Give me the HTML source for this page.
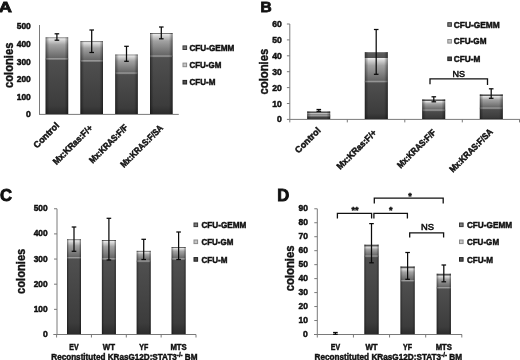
<!DOCTYPE html>
<html><head><meta charset="utf-8"><title>Figure</title>
<style>
html,body{margin:0;padding:0;background:#fff;}
body{width:520px;height:360px;overflow:hidden;}
svg{display:block;font-family:"Liberation Sans", "DejaVu Sans", sans-serif;filter:blur(0.3px);}
</style></head><body>
<svg width="520" height="360" viewBox="0 0 520 360">
<rect width="520" height="360" fill="#fff"/>
<defs>
<linearGradient id="gM" x1="0" y1="0" x2="0" y2="1"><stop offset="0" stop-color="#505050"/><stop offset="0.85" stop-color="#3c3c3c"/><stop offset="1" stop-color="#2c2c2c"/></linearGradient>
<linearGradient id="gGM" x1="0" y1="0" x2="0" y2="1"><stop offset="0" stop-color="#eeeeee"/><stop offset="0.11" stop-color="#d2d2d2"/><stop offset="0.32" stop-color="#a2a2a2"/><stop offset="1" stop-color="#626262"/></linearGradient>
<linearGradient id="gGE" x1="0" y1="0" x2="0" y2="1"><stop offset="0" stop-color="#8c8c8c"/><stop offset="0.25" stop-color="#5a5a5a"/><stop offset="1" stop-color="#525252"/></linearGradient>
<linearGradient id="gHi" x1="0" y1="0" x2="0" y2="1"><stop offset="0" stop-color="#a8a8a8"/><stop offset="0.45" stop-color="#929292" stop-opacity="0.85"/><stop offset="1" stop-color="#8c8c8c" stop-opacity="0"/></linearGradient>
<linearGradient id="gEdge" x1="0" y1="0" x2="1" y2="0"><stop offset="0" stop-color="#000" stop-opacity="0.5"/><stop offset="0.07" stop-color="#000" stop-opacity="0.22"/><stop offset="0.16" stop-color="#000" stop-opacity="0"/><stop offset="0.84" stop-color="#000" stop-opacity="0"/><stop offset="0.93" stop-color="#000" stop-opacity="0.22"/><stop offset="1" stop-color="#000" stop-opacity="0.5"/></linearGradient>
</defs>
<line x1="39.5" y1="25" x2="39.5" y2="114.4" stroke="#7a7a7a" stroke-width="1"/>
<line x1="39.0" y1="114.4" x2="178.8" y2="114.4" stroke="#7a7a7a" stroke-width="1"/>
<text x="30.8" y="117.3" font-size="8.3" text-anchor="end" font-weight="bold" fill="#111" stroke="#111" stroke-width="0.46" textLength="4.8" lengthAdjust="spacingAndGlyphs" >0</text>
<text x="30.8" y="99.7" font-size="8.3" text-anchor="end" font-weight="bold" fill="#111" stroke="#111" stroke-width="0.46" textLength="14.1" lengthAdjust="spacingAndGlyphs" >100</text>
<text x="30.8" y="82.1" font-size="8.3" text-anchor="end" font-weight="bold" fill="#111" stroke="#111" stroke-width="0.46" textLength="14.1" lengthAdjust="spacingAndGlyphs" >200</text>
<text x="30.8" y="64.5" font-size="8.3" text-anchor="end" font-weight="bold" fill="#111" stroke="#111" stroke-width="0.46" textLength="14.1" lengthAdjust="spacingAndGlyphs" >300</text>
<text x="30.8" y="46.9" font-size="8.3" text-anchor="end" font-weight="bold" fill="#111" stroke="#111" stroke-width="0.46" textLength="14.1" lengthAdjust="spacingAndGlyphs" >400</text>
<text x="30.8" y="29.3" font-size="8.3" text-anchor="end" font-weight="bold" fill="#111" stroke="#111" stroke-width="0.46" textLength="14.1" lengthAdjust="spacingAndGlyphs" >500</text>
<text x="12.7" y="65.3" font-size="12" text-anchor="middle" font-weight="bold" fill="#111" stroke="#111" stroke-width="0.4" textLength="45.5" lengthAdjust="spacingAndGlyphs" transform="rotate(-90 12.7 65.3)" >colonies</text>
<rect x="45.6" y="58.8" width="22.6" height="55.2" fill="url(#gM)"/>
<rect x="45.6" y="38.199999999999996" width="22.6" height="20.6" fill="url(#gGM)"/>
<rect x="45.6" y="37.4" width="22.6" height="0.8" fill="url(#gGE)"/>
<rect x="45.6" y="58.3" width="22.6" height="2.2" fill="url(#gHi)"/>
<rect x="45.6" y="37.4" width="22.6" height="76.6" fill="url(#gEdge)"/>
<line x1="56.9" y1="33.8" x2="56.9" y2="40.2" stroke="#0a0a0a" stroke-width="1.25"/>
<line x1="54.6" y1="33.8" x2="59.199999999999996" y2="33.8" stroke="#0a0a0a" stroke-width="1.25"/>
<line x1="54.6" y1="40.2" x2="59.199999999999996" y2="40.2" stroke="#0a0a0a" stroke-width="1.25"/>
<rect x="80.4" y="60.8" width="22.6" height="53.2" fill="url(#gM)"/>
<rect x="80.4" y="42.099999999999994" width="22.6" height="18.7" fill="url(#gGM)"/>
<rect x="80.4" y="41.3" width="22.6" height="0.8" fill="url(#gGE)"/>
<rect x="80.4" y="60.3" width="22.6" height="2.2" fill="url(#gHi)"/>
<rect x="80.4" y="41.3" width="22.6" height="72.7" fill="url(#gEdge)"/>
<line x1="91.7" y1="30.0" x2="91.7" y2="52.5" stroke="#0a0a0a" stroke-width="1.25"/>
<line x1="89.4" y1="30.0" x2="94.0" y2="30.0" stroke="#0a0a0a" stroke-width="1.25"/>
<line x1="89.4" y1="52.5" x2="94.0" y2="52.5" stroke="#0a0a0a" stroke-width="1.25"/>
<rect x="115.2" y="73.0" width="22.6" height="41.0" fill="url(#gM)"/>
<rect x="115.2" y="55.3" width="22.6" height="17.7" fill="url(#gGM)"/>
<rect x="115.2" y="54.5" width="22.6" height="0.8" fill="url(#gGE)"/>
<rect x="115.2" y="72.5" width="22.6" height="2.2" fill="url(#gHi)"/>
<rect x="115.2" y="54.5" width="22.6" height="59.5" fill="url(#gEdge)"/>
<line x1="126.5" y1="46.3" x2="126.5" y2="61.3" stroke="#0a0a0a" stroke-width="1.25"/>
<line x1="124.2" y1="46.3" x2="128.8" y2="46.3" stroke="#0a0a0a" stroke-width="1.25"/>
<line x1="124.2" y1="61.3" x2="128.8" y2="61.3" stroke="#0a0a0a" stroke-width="1.25"/>
<rect x="150.0" y="56.0" width="22.6" height="58.0" fill="url(#gM)"/>
<rect x="150.0" y="33.8" width="22.6" height="22.2" fill="url(#gGM)"/>
<rect x="150.0" y="33.0" width="22.6" height="0.8" fill="url(#gGE)"/>
<rect x="150.0" y="55.5" width="22.6" height="2.2" fill="url(#gHi)"/>
<rect x="150.0" y="33.0" width="22.6" height="81.0" fill="url(#gEdge)"/>
<line x1="161.3" y1="27.0" x2="161.3" y2="38.8" stroke="#0a0a0a" stroke-width="1.25"/>
<line x1="159.0" y1="27.0" x2="163.60000000000002" y2="27.0" stroke="#0a0a0a" stroke-width="1.25"/>
<line x1="159.0" y1="38.8" x2="163.60000000000002" y2="38.8" stroke="#0a0a0a" stroke-width="1.25"/>
<text x="59.7" y="126" font-size="9" text-anchor="end" font-weight="bold" fill="#111" stroke="#111" stroke-width="0.49" textLength="32" lengthAdjust="spacingAndGlyphs" transform="rotate(-45 59.7 126)" >Control</text>
<text x="93.2" y="128.5" font-size="9" text-anchor="end" font-weight="bold" fill="#111" stroke="#111" stroke-width="0.49" textLength="52" lengthAdjust="spacingAndGlyphs" transform="rotate(-45 93.2 128.5)" >Mx:KRas:F/+</text>
<text x="128.5" y="128" font-size="9" text-anchor="end" font-weight="bold" fill="#111" stroke="#111" stroke-width="0.49" textLength="50.5" lengthAdjust="spacingAndGlyphs" transform="rotate(-45 128.5 128)" >Mx:KRAS:F/F</text>
<text x="163.6" y="128.5" font-size="9" text-anchor="end" font-weight="bold" fill="#111" stroke="#111" stroke-width="0.49" textLength="56" lengthAdjust="spacingAndGlyphs" transform="rotate(-45 163.6 128.5)" >Mx:KRAS:F/SA</text>
<rect x="183.0" y="45.9" width="3.6" height="3.6" fill="#7c7c7c" stroke="#3a3a3a" stroke-width="1"/>
<text x="189.4" y="50.8" font-size="8.8" text-anchor="start" font-weight="bold" fill="#111" stroke="#111" stroke-width="0.48" textLength="45" lengthAdjust="spacingAndGlyphs" >CFU-GEMM</text>
<rect x="183.0" y="63.1" width="3.6" height="3.6" fill="#c6c6c6" stroke="#8a8a8a" stroke-width="1"/>
<text x="189.4" y="68.0" font-size="8.8" text-anchor="start" font-weight="bold" fill="#111" stroke="#111" stroke-width="0.48" textLength="32.0" lengthAdjust="spacingAndGlyphs" >CFU-GM</text>
<rect x="183.0" y="80.4" width="3.6" height="3.6" fill="#505050" stroke="#222222" stroke-width="1"/>
<text x="189.4" y="85.3" font-size="8.8" text-anchor="start" font-weight="bold" fill="#111" stroke="#111" stroke-width="0.48" textLength="26.0" lengthAdjust="spacingAndGlyphs" >CFU-M</text>
<text x="-1.2" y="12.2" font-size="15.3" text-anchor="start" font-weight="bold" fill="#111" stroke="#111" stroke-width="0.84" textLength="13.2" lengthAdjust="spacingAndGlyphs" >A</text>
<line x1="289.8" y1="24" x2="289.8" y2="119.4" stroke="#7a7a7a" stroke-width="1"/>
<line x1="289.8" y1="119.4" x2="520" y2="119.4" stroke="#7a7a7a" stroke-width="1"/>
<text x="281.8" y="122.4" font-size="8.5" text-anchor="end" font-weight="bold" fill="#111" stroke="#111" stroke-width="0.47" textLength="4.8" lengthAdjust="spacingAndGlyphs" >0</text>
<line x1="286.90000000000003" y1="119.4" x2="289.8" y2="119.4" stroke="#7a7a7a" stroke-width="1"/>
<text x="281.8" y="106.5" font-size="8.5" text-anchor="end" font-weight="bold" fill="#111" stroke="#111" stroke-width="0.47" textLength="9.6" lengthAdjust="spacingAndGlyphs" >10</text>
<line x1="286.90000000000003" y1="103.5" x2="289.8" y2="103.5" stroke="#7a7a7a" stroke-width="1"/>
<text x="281.8" y="90.6" font-size="8.5" text-anchor="end" font-weight="bold" fill="#111" stroke="#111" stroke-width="0.47" textLength="9.6" lengthAdjust="spacingAndGlyphs" >20</text>
<line x1="286.90000000000003" y1="87.60000000000001" x2="289.8" y2="87.60000000000001" stroke="#7a7a7a" stroke-width="1"/>
<text x="281.8" y="74.7" font-size="8.5" text-anchor="end" font-weight="bold" fill="#111" stroke="#111" stroke-width="0.47" textLength="9.6" lengthAdjust="spacingAndGlyphs" >30</text>
<line x1="286.90000000000003" y1="71.7" x2="289.8" y2="71.7" stroke="#7a7a7a" stroke-width="1"/>
<text x="281.8" y="58.8" font-size="8.5" text-anchor="end" font-weight="bold" fill="#111" stroke="#111" stroke-width="0.47" textLength="9.6" lengthAdjust="spacingAndGlyphs" >40</text>
<line x1="286.90000000000003" y1="55.800000000000004" x2="289.8" y2="55.800000000000004" stroke="#7a7a7a" stroke-width="1"/>
<text x="281.8" y="42.9" font-size="8.5" text-anchor="end" font-weight="bold" fill="#111" stroke="#111" stroke-width="0.47" textLength="9.6" lengthAdjust="spacingAndGlyphs" >50</text>
<line x1="286.90000000000003" y1="39.900000000000006" x2="289.8" y2="39.900000000000006" stroke="#7a7a7a" stroke-width="1"/>
<text x="281.8" y="27.0" font-size="8.5" text-anchor="end" font-weight="bold" fill="#111" stroke="#111" stroke-width="0.47" textLength="9.6" lengthAdjust="spacingAndGlyphs" >60</text>
<line x1="286.90000000000003" y1="24.0" x2="289.8" y2="24.0" stroke="#7a7a7a" stroke-width="1"/>
<line x1="289.8" y1="119.4" x2="289.8" y2="122.4" stroke="#7a7a7a" stroke-width="1"/>
<line x1="347.3" y1="119.4" x2="347.3" y2="122.4" stroke="#7a7a7a" stroke-width="1"/>
<line x1="404.8" y1="119.4" x2="404.8" y2="122.4" stroke="#7a7a7a" stroke-width="1"/>
<line x1="462.3" y1="119.4" x2="462.3" y2="122.4" stroke="#7a7a7a" stroke-width="1"/>
<line x1="519.5" y1="119.4" x2="519.5" y2="122.4" stroke="#7a7a7a" stroke-width="1"/>
<text x="267.7" y="71.6" font-size="12" text-anchor="middle" font-weight="bold" fill="#111" stroke="#111" stroke-width="0.4" textLength="45.7" lengthAdjust="spacingAndGlyphs" transform="rotate(-90 267.7 71.6)" >colonies</text>
<rect x="307.2" y="115.5" width="23.0" height="3.5" fill="url(#gM)"/>
<rect x="307.2" y="113.0" width="23.0" height="2.5" fill="url(#gGM)"/>
<rect x="307.2" y="111.3" width="23.0" height="1.7" fill="url(#gGE)"/>
<rect x="307.2" y="115.0" width="23.0" height="2.2" fill="url(#gHi)"/>
<rect x="307.2" y="111.3" width="23.0" height="7.7" fill="url(#gEdge)"/>
<line x1="318.8" y1="109.5" x2="318.8" y2="111.3" stroke="#0a0a0a" stroke-width="1.25"/>
<line x1="316.5" y1="109.5" x2="321.1" y2="109.5" stroke="#0a0a0a" stroke-width="1.25"/>
<line x1="316.5" y1="111.3" x2="321.1" y2="111.3" stroke="#0a0a0a" stroke-width="1.25"/>
<rect x="364.8" y="81.3" width="23.0" height="37.7" fill="url(#gM)"/>
<rect x="364.8" y="58.0" width="23.0" height="23.3" fill="url(#gGM)"/>
<rect x="364.8" y="52.0" width="23.0" height="6.0" fill="url(#gGE)"/>
<rect x="364.8" y="80.8" width="23.0" height="2.2" fill="url(#gHi)"/>
<rect x="364.8" y="52.0" width="23.0" height="67.0" fill="url(#gEdge)"/>
<line x1="376.2" y1="29.5" x2="376.2" y2="74.3" stroke="#0a0a0a" stroke-width="1.25"/>
<line x1="373.9" y1="29.5" x2="378.5" y2="29.5" stroke="#0a0a0a" stroke-width="1.25"/>
<line x1="373.9" y1="74.3" x2="378.5" y2="74.3" stroke="#0a0a0a" stroke-width="1.25"/>
<rect x="422.2" y="110.0" width="23.0" height="9.0" fill="url(#gM)"/>
<rect x="422.2" y="101.0" width="23.0" height="9.0" fill="url(#gGM)"/>
<rect x="422.2" y="99.3" width="23.0" height="1.7" fill="url(#gGE)"/>
<rect x="422.2" y="109.5" width="23.0" height="2.2" fill="url(#gHi)"/>
<rect x="422.2" y="99.3" width="23.0" height="19.7" fill="url(#gEdge)"/>
<line x1="433.8" y1="96.8" x2="433.8" y2="101.8" stroke="#0a0a0a" stroke-width="1.25"/>
<line x1="431.5" y1="96.8" x2="436.1" y2="96.8" stroke="#0a0a0a" stroke-width="1.25"/>
<line x1="431.5" y1="101.8" x2="436.1" y2="101.8" stroke="#0a0a0a" stroke-width="1.25"/>
<rect x="479.8" y="108.0" width="23.0" height="11.0" fill="url(#gM)"/>
<rect x="479.8" y="96.0" width="23.0" height="12.0" fill="url(#gGM)"/>
<rect x="479.8" y="94.3" width="23.0" height="1.7" fill="url(#gGE)"/>
<rect x="479.8" y="107.5" width="23.0" height="2.2" fill="url(#gHi)"/>
<rect x="479.8" y="94.3" width="23.0" height="24.7" fill="url(#gEdge)"/>
<line x1="491.2" y1="88.8" x2="491.2" y2="98.3" stroke="#0a0a0a" stroke-width="1.25"/>
<line x1="488.9" y1="88.8" x2="493.5" y2="88.8" stroke="#0a0a0a" stroke-width="1.25"/>
<line x1="488.9" y1="98.3" x2="493.5" y2="98.3" stroke="#0a0a0a" stroke-width="1.25"/>
<text x="321.2" y="131" font-size="9" text-anchor="end" font-weight="bold" fill="#111" stroke="#111" stroke-width="0.49" textLength="32" lengthAdjust="spacingAndGlyphs" transform="rotate(-45 321.2 131)" >Control</text>
<text x="377.1" y="133.3" font-size="9" text-anchor="end" font-weight="bold" fill="#111" stroke="#111" stroke-width="0.49" textLength="52" lengthAdjust="spacingAndGlyphs" transform="rotate(-45 377.1 133.3)" >Mx:KRas:F/+</text>
<text x="436.4" y="133" font-size="9" text-anchor="end" font-weight="bold" fill="#111" stroke="#111" stroke-width="0.49" textLength="50.5" lengthAdjust="spacingAndGlyphs" transform="rotate(-45 436.4 133)" >Mx:KRAS:F/F</text>
<text x="493.4" y="132.5" font-size="9" text-anchor="end" font-weight="bold" fill="#111" stroke="#111" stroke-width="0.49" textLength="57" lengthAdjust="spacingAndGlyphs" transform="rotate(-45 493.4 132.5)" >Mx:KRAS:F/SA</text>
<rect x="447.8" y="22.7" width="3.6" height="3.6" fill="#7c7c7c" stroke="#3a3a3a" stroke-width="1"/>
<text x="453.8" y="27.6" font-size="8.8" text-anchor="start" font-weight="bold" fill="#111" stroke="#111" stroke-width="0.48" textLength="46" lengthAdjust="spacingAndGlyphs" >CFU-GEMM</text>
<rect x="447.8" y="39.5" width="3.6" height="3.6" fill="#c6c6c6" stroke="#8a8a8a" stroke-width="1"/>
<text x="453.8" y="44.4" font-size="8.8" text-anchor="start" font-weight="bold" fill="#111" stroke="#111" stroke-width="0.48" textLength="32.7" lengthAdjust="spacingAndGlyphs" >CFU-GM</text>
<rect x="447.8" y="57.0" width="3.6" height="3.6" fill="#505050" stroke="#222222" stroke-width="1"/>
<text x="453.8" y="61.9" font-size="8.8" text-anchor="start" font-weight="bold" fill="#111" stroke="#111" stroke-width="0.48" textLength="26.6" lengthAdjust="spacingAndGlyphs" >CFU-M</text>
<polyline points="430,84.3 430,78.8 487.5,78.8 487.5,85" fill="none" stroke="#111" stroke-width="1.3"/>
<text x="458.8" y="77" font-size="9.5" text-anchor="middle" font-weight="normal" fill="#111" stroke="#111" stroke-width="0.55" textLength="12.5" lengthAdjust="spacingAndGlyphs" >NS</text>
<text x="260.5" y="12.3" font-size="15.3" text-anchor="start" font-weight="bold" fill="#111" stroke="#111" stroke-width="0.84" textLength="11.2" lengthAdjust="spacingAndGlyphs" >B</text>
<line x1="57" y1="208.8" x2="57" y2="334.5" stroke="#7a7a7a" stroke-width="1"/>
<line x1="53.300000000000004" y1="334.5" x2="196" y2="334.5" stroke="#7a7a7a" stroke-width="1"/>
<text x="47.7" y="337.0" font-size="8.5" text-anchor="end" font-weight="bold" fill="#111" stroke="#111" stroke-width="0.47" textLength="4.8" lengthAdjust="spacingAndGlyphs" >0</text>
<line x1="54" y1="334.5" x2="57" y2="334.5" stroke="#7a7a7a" stroke-width="1"/>
<text x="47.7" y="311.9" font-size="8.5" text-anchor="end" font-weight="bold" fill="#111" stroke="#111" stroke-width="0.47" textLength="14" lengthAdjust="spacingAndGlyphs" >100</text>
<line x1="54" y1="309.35" x2="57" y2="309.35" stroke="#7a7a7a" stroke-width="1"/>
<text x="47.7" y="286.7" font-size="8.5" text-anchor="end" font-weight="bold" fill="#111" stroke="#111" stroke-width="0.47" textLength="14" lengthAdjust="spacingAndGlyphs" >200</text>
<line x1="54" y1="284.2" x2="57" y2="284.2" stroke="#7a7a7a" stroke-width="1"/>
<text x="47.7" y="261.6" font-size="8.5" text-anchor="end" font-weight="bold" fill="#111" stroke="#111" stroke-width="0.47" textLength="14" lengthAdjust="spacingAndGlyphs" >300</text>
<line x1="54" y1="259.05" x2="57" y2="259.05" stroke="#7a7a7a" stroke-width="1"/>
<text x="47.7" y="236.4" font-size="8.5" text-anchor="end" font-weight="bold" fill="#111" stroke="#111" stroke-width="0.47" textLength="14" lengthAdjust="spacingAndGlyphs" >400</text>
<line x1="54" y1="233.9" x2="57" y2="233.9" stroke="#7a7a7a" stroke-width="1"/>
<text x="47.7" y="211.2" font-size="8.5" text-anchor="end" font-weight="bold" fill="#111" stroke="#111" stroke-width="0.47" textLength="14" lengthAdjust="spacingAndGlyphs" >500</text>
<line x1="54" y1="208.75" x2="57" y2="208.75" stroke="#7a7a7a" stroke-width="1"/>
<line x1="56.6" y1="334.5" x2="56.6" y2="337.5" stroke="#7a7a7a" stroke-width="1"/>
<line x1="91.45" y1="334.5" x2="91.45" y2="337.5" stroke="#7a7a7a" stroke-width="1"/>
<line x1="126.30000000000001" y1="334.5" x2="126.30000000000001" y2="337.5" stroke="#7a7a7a" stroke-width="1"/>
<line x1="161.15" y1="334.5" x2="161.15" y2="337.5" stroke="#7a7a7a" stroke-width="1"/>
<line x1="196.0" y1="334.5" x2="196.0" y2="337.5" stroke="#7a7a7a" stroke-width="1"/>
<text x="24.8" y="271.3" font-size="12" text-anchor="middle" font-weight="bold" fill="#111" stroke="#111" stroke-width="0.4" textLength="45.3" lengthAdjust="spacingAndGlyphs" transform="rotate(-90 24.8 271.3)" >colonies</text>
<rect x="67.0" y="257.5" width="14.0" height="76.6" fill="url(#gM)"/>
<rect x="67.0" y="240.2" width="14.0" height="17.3" fill="url(#gGM)"/>
<rect x="67.0" y="239.3" width="14.0" height="0.9" fill="url(#gGE)"/>
<rect x="67.0" y="257.0" width="14.0" height="2.2" fill="url(#gHi)"/>
<rect x="67.0" y="239.3" width="14.0" height="94.8" fill="url(#gEdge)"/>
<line x1="74.0" y1="227.0" x2="74.0" y2="251.3" stroke="#0a0a0a" stroke-width="1.25"/>
<line x1="71.7" y1="227.0" x2="76.3" y2="227.0" stroke="#0a0a0a" stroke-width="1.25"/>
<line x1="71.7" y1="251.3" x2="76.3" y2="251.3" stroke="#0a0a0a" stroke-width="1.25"/>
<rect x="101.9" y="258.8" width="14.0" height="75.3" fill="url(#gM)"/>
<rect x="101.9" y="240.9" width="14.0" height="17.9" fill="url(#gGM)"/>
<rect x="101.9" y="240.0" width="14.0" height="0.9" fill="url(#gGE)"/>
<rect x="101.9" y="258.3" width="14.0" height="2.2" fill="url(#gHi)"/>
<rect x="101.9" y="240.0" width="14.0" height="94.1" fill="url(#gEdge)"/>
<line x1="108.9" y1="218.3" x2="108.9" y2="260.0" stroke="#0a0a0a" stroke-width="1.25"/>
<line x1="106.60000000000001" y1="218.3" x2="111.2" y2="218.3" stroke="#0a0a0a" stroke-width="1.25"/>
<line x1="106.60000000000001" y1="260.0" x2="111.2" y2="260.0" stroke="#0a0a0a" stroke-width="1.25"/>
<rect x="136.7" y="261.0" width="14.0" height="73.1" fill="url(#gM)"/>
<rect x="136.7" y="251.7" width="14.0" height="9.3" fill="url(#gGM)"/>
<rect x="136.7" y="250.8" width="14.0" height="0.9" fill="url(#gGE)"/>
<rect x="136.7" y="260.5" width="14.0" height="2.2" fill="url(#gHi)"/>
<rect x="136.7" y="250.8" width="14.0" height="83.3" fill="url(#gEdge)"/>
<line x1="143.7" y1="239.3" x2="143.7" y2="259.5" stroke="#0a0a0a" stroke-width="1.25"/>
<line x1="141.39999999999998" y1="239.3" x2="146.0" y2="239.3" stroke="#0a0a0a" stroke-width="1.25"/>
<line x1="141.39999999999998" y1="259.5" x2="146.0" y2="259.5" stroke="#0a0a0a" stroke-width="1.25"/>
<rect x="171.6" y="258.8" width="14.0" height="75.3" fill="url(#gM)"/>
<rect x="171.6" y="247.9" width="14.0" height="10.9" fill="url(#gGM)"/>
<rect x="171.6" y="247.0" width="14.0" height="0.9" fill="url(#gGE)"/>
<rect x="171.6" y="258.3" width="14.0" height="2.2" fill="url(#gHi)"/>
<rect x="171.6" y="247.0" width="14.0" height="87.1" fill="url(#gEdge)"/>
<line x1="178.6" y1="232.0" x2="178.6" y2="259.5" stroke="#0a0a0a" stroke-width="1.25"/>
<line x1="176.29999999999998" y1="232.0" x2="180.9" y2="232.0" stroke="#0a0a0a" stroke-width="1.25"/>
<line x1="176.29999999999998" y1="259.5" x2="180.9" y2="259.5" stroke="#0a0a0a" stroke-width="1.25"/>
<text x="74.0" y="350" font-size="8.8" text-anchor="middle" font-weight="bold" fill="#111" stroke="#111" stroke-width="0.48" textLength="9.3" lengthAdjust="spacingAndGlyphs" >EV</text>
<text x="108.9" y="350" font-size="8.8" text-anchor="middle" font-weight="bold" fill="#111" stroke="#111" stroke-width="0.48" textLength="12.2" lengthAdjust="spacingAndGlyphs" >WT</text>
<text x="143.7" y="350" font-size="8.8" text-anchor="middle" font-weight="bold" fill="#111" stroke="#111" stroke-width="0.48" textLength="9.0" lengthAdjust="spacingAndGlyphs" >YF</text>
<text x="178.6" y="350" font-size="8.8" text-anchor="middle" font-weight="bold" fill="#111" stroke="#111" stroke-width="0.48" textLength="16.3" lengthAdjust="spacingAndGlyphs" >MTS</text>
<text x="51.3" y="359.7" font-size="8.7" font-weight="bold" fill="#111" stroke="#111" stroke-width="0.45" textLength="146.2" lengthAdjust="spacingAndGlyphs">Reconstituted KRasG12D:STAT3<tspan font-size="6.5" dy="-2.6">-/-</tspan><tspan dy="2.6"> BM</tspan></text>
<rect x="194.0" y="223.0" width="3.6" height="3.6" fill="#7c7c7c" stroke="#3a3a3a" stroke-width="1"/>
<text x="201.4" y="227.9" font-size="8.8" text-anchor="start" font-weight="bold" fill="#111" stroke="#111" stroke-width="0.48" textLength="45" lengthAdjust="spacingAndGlyphs" >CFU-GEMM</text>
<rect x="194.0" y="240.0" width="3.6" height="3.6" fill="#c6c6c6" stroke="#8a8a8a" stroke-width="1"/>
<text x="201.4" y="244.9" font-size="8.8" text-anchor="start" font-weight="bold" fill="#111" stroke="#111" stroke-width="0.48" textLength="32.0" lengthAdjust="spacingAndGlyphs" >CFU-GM</text>
<rect x="194.0" y="257.6" width="3.6" height="3.6" fill="#505050" stroke="#222222" stroke-width="1"/>
<text x="201.4" y="262.5" font-size="8.8" text-anchor="start" font-weight="bold" fill="#111" stroke="#111" stroke-width="0.48" textLength="26.0" lengthAdjust="spacingAndGlyphs" >CFU-M</text>
<text x="0" y="201.2" font-size="17" text-anchor="start" font-weight="bold" fill="#111" stroke="#111" stroke-width="0.94" textLength="12" lengthAdjust="spacingAndGlyphs" >C</text>
<line x1="317.3" y1="208.8" x2="317.3" y2="334.5" stroke="#7a7a7a" stroke-width="1"/>
<line x1="314.0" y1="334.5" x2="462" y2="334.5" stroke="#7a7a7a" stroke-width="1"/>
<text x="307.9" y="337.0" font-size="8.5" text-anchor="end" font-weight="bold" fill="#111" stroke="#111" stroke-width="0.47" textLength="4.8" lengthAdjust="spacingAndGlyphs" >0</text>
<line x1="314.3" y1="334.5" x2="317.3" y2="334.5" stroke="#7a7a7a" stroke-width="1"/>
<text x="307.9" y="323.0" font-size="8.5" text-anchor="end" font-weight="bold" fill="#111" stroke="#111" stroke-width="0.47" textLength="9.5" lengthAdjust="spacingAndGlyphs" >10</text>
<line x1="314.3" y1="320.53" x2="317.3" y2="320.53" stroke="#7a7a7a" stroke-width="1"/>
<text x="307.9" y="309.1" font-size="8.5" text-anchor="end" font-weight="bold" fill="#111" stroke="#111" stroke-width="0.47" textLength="9.5" lengthAdjust="spacingAndGlyphs" >20</text>
<line x1="314.3" y1="306.56" x2="317.3" y2="306.56" stroke="#7a7a7a" stroke-width="1"/>
<text x="307.9" y="295.1" font-size="8.5" text-anchor="end" font-weight="bold" fill="#111" stroke="#111" stroke-width="0.47" textLength="9.5" lengthAdjust="spacingAndGlyphs" >30</text>
<line x1="314.3" y1="292.59" x2="317.3" y2="292.59" stroke="#7a7a7a" stroke-width="1"/>
<text x="307.9" y="281.1" font-size="8.5" text-anchor="end" font-weight="bold" fill="#111" stroke="#111" stroke-width="0.47" textLength="9.5" lengthAdjust="spacingAndGlyphs" >40</text>
<line x1="314.3" y1="278.62" x2="317.3" y2="278.62" stroke="#7a7a7a" stroke-width="1"/>
<text x="307.9" y="267.1" font-size="8.5" text-anchor="end" font-weight="bold" fill="#111" stroke="#111" stroke-width="0.47" textLength="9.5" lengthAdjust="spacingAndGlyphs" >50</text>
<line x1="314.3" y1="264.65" x2="317.3" y2="264.65" stroke="#7a7a7a" stroke-width="1"/>
<text x="307.9" y="253.2" font-size="8.5" text-anchor="end" font-weight="bold" fill="#111" stroke="#111" stroke-width="0.47" textLength="9.5" lengthAdjust="spacingAndGlyphs" >60</text>
<line x1="314.3" y1="250.68" x2="317.3" y2="250.68" stroke="#7a7a7a" stroke-width="1"/>
<text x="307.9" y="239.2" font-size="8.5" text-anchor="end" font-weight="bold" fill="#111" stroke="#111" stroke-width="0.47" textLength="9.5" lengthAdjust="spacingAndGlyphs" >70</text>
<line x1="314.3" y1="236.70999999999998" x2="317.3" y2="236.70999999999998" stroke="#7a7a7a" stroke-width="1"/>
<text x="307.9" y="225.2" font-size="8.5" text-anchor="end" font-weight="bold" fill="#111" stroke="#111" stroke-width="0.47" textLength="9.5" lengthAdjust="spacingAndGlyphs" >80</text>
<line x1="314.3" y1="222.74" x2="317.3" y2="222.74" stroke="#7a7a7a" stroke-width="1"/>
<text x="307.9" y="211.3" font-size="8.5" text-anchor="end" font-weight="bold" fill="#111" stroke="#111" stroke-width="0.47" textLength="9.5" lengthAdjust="spacingAndGlyphs" >90</text>
<line x1="314.3" y1="208.76999999999998" x2="317.3" y2="208.76999999999998" stroke="#7a7a7a" stroke-width="1"/>
<line x1="317.3" y1="334.5" x2="317.3" y2="337.5" stroke="#7a7a7a" stroke-width="1"/>
<line x1="353.43" y1="334.5" x2="353.43" y2="337.5" stroke="#7a7a7a" stroke-width="1"/>
<line x1="389.56" y1="334.5" x2="389.56" y2="337.5" stroke="#7a7a7a" stroke-width="1"/>
<line x1="425.69000000000005" y1="334.5" x2="425.69000000000005" y2="337.5" stroke="#7a7a7a" stroke-width="1"/>
<line x1="461.82000000000005" y1="334.5" x2="461.82000000000005" y2="337.5" stroke="#7a7a7a" stroke-width="1"/>
<text x="293.8" y="268.4" font-size="12" text-anchor="middle" font-weight="bold" fill="#111" stroke="#111" stroke-width="0.4" textLength="45.7" lengthAdjust="spacingAndGlyphs" transform="rotate(-90 293.8 268.4)" >colonies</text>
<line x1="335.4" y1="332.5" x2="335.4" y2="334.3" stroke="#0a0a0a" stroke-width="1.25"/>
<line x1="333.09999999999997" y1="332.5" x2="337.7" y2="332.5" stroke="#0a0a0a" stroke-width="1.25"/>
<line x1="333.09999999999997" y1="334.3" x2="337.7" y2="334.3" stroke="#0a0a0a" stroke-width="1.25"/>
<rect x="364.4" y="256.0" width="14.2" height="78.1" fill="url(#gM)"/>
<rect x="364.4" y="246.5" width="14.2" height="9.5" fill="url(#gGM)"/>
<rect x="364.4" y="244.5" width="14.2" height="2.0" fill="url(#gGE)"/>
<rect x="364.4" y="255.5" width="14.2" height="2.2" fill="url(#gHi)"/>
<rect x="364.4" y="244.5" width="14.2" height="89.6" fill="url(#gEdge)"/>
<line x1="371.5" y1="223.6" x2="371.5" y2="262.8" stroke="#0a0a0a" stroke-width="1.25"/>
<line x1="369.2" y1="223.6" x2="373.8" y2="223.6" stroke="#0a0a0a" stroke-width="1.25"/>
<line x1="369.2" y1="262.8" x2="373.8" y2="262.8" stroke="#0a0a0a" stroke-width="1.25"/>
<rect x="400.5" y="280.5" width="14.2" height="53.6" fill="url(#gM)"/>
<rect x="400.5" y="268.3" width="14.2" height="12.2" fill="url(#gGM)"/>
<rect x="400.5" y="266.3" width="14.2" height="2.0" fill="url(#gGE)"/>
<rect x="400.5" y="280.0" width="14.2" height="2.2" fill="url(#gHi)"/>
<rect x="400.5" y="266.3" width="14.2" height="67.8" fill="url(#gEdge)"/>
<line x1="407.6" y1="252.5" x2="407.6" y2="279.3" stroke="#0a0a0a" stroke-width="1.25"/>
<line x1="405.3" y1="252.5" x2="409.90000000000003" y2="252.5" stroke="#0a0a0a" stroke-width="1.25"/>
<line x1="405.3" y1="279.3" x2="409.90000000000003" y2="279.3" stroke="#0a0a0a" stroke-width="1.25"/>
<rect x="436.7" y="287.5" width="14.2" height="46.6" fill="url(#gM)"/>
<rect x="436.7" y="275.6" width="14.2" height="11.9" fill="url(#gGM)"/>
<rect x="436.7" y="273.6" width="14.2" height="2.0" fill="url(#gGE)"/>
<rect x="436.7" y="287.0" width="14.2" height="2.2" fill="url(#gHi)"/>
<rect x="436.7" y="273.6" width="14.2" height="60.5" fill="url(#gEdge)"/>
<line x1="443.8" y1="265.0" x2="443.8" y2="281.8" stroke="#0a0a0a" stroke-width="1.25"/>
<line x1="441.5" y1="265.0" x2="446.1" y2="265.0" stroke="#0a0a0a" stroke-width="1.25"/>
<line x1="441.5" y1="281.8" x2="446.1" y2="281.8" stroke="#0a0a0a" stroke-width="1.25"/>
<text x="335.4" y="349.7" font-size="8.8" text-anchor="middle" font-weight="bold" fill="#111" stroke="#111" stroke-width="0.48" textLength="9.3" lengthAdjust="spacingAndGlyphs" >EV</text>
<text x="371.5" y="349.7" font-size="8.8" text-anchor="middle" font-weight="bold" fill="#111" stroke="#111" stroke-width="0.48" textLength="12.2" lengthAdjust="spacingAndGlyphs" >WT</text>
<text x="407.6" y="349.7" font-size="8.8" text-anchor="middle" font-weight="bold" fill="#111" stroke="#111" stroke-width="0.48" textLength="9.0" lengthAdjust="spacingAndGlyphs" >YF</text>
<text x="443.8" y="349.7" font-size="8.8" text-anchor="middle" font-weight="bold" fill="#111" stroke="#111" stroke-width="0.48" textLength="16.3" lengthAdjust="spacingAndGlyphs" >MTS</text>
<text x="314.5" y="359.7" font-size="8.7" font-weight="bold" fill="#111" stroke="#111" stroke-width="0.45" textLength="147.5" lengthAdjust="spacingAndGlyphs">Reconstituted KRasG12D:STAT3<tspan font-size="6.5" dy="-2.6">-/-</tspan><tspan dy="2.6"> BM</tspan></text>
<rect x="459.5" y="223.0" width="3.6" height="3.6" fill="#7c7c7c" stroke="#3a3a3a" stroke-width="1"/>
<text x="466.9" y="227.9" font-size="8.8" text-anchor="start" font-weight="bold" fill="#111" stroke="#111" stroke-width="0.48" textLength="45.3" lengthAdjust="spacingAndGlyphs" >CFU-GEMM</text>
<rect x="459.5" y="240.0" width="3.6" height="3.6" fill="#c6c6c6" stroke="#8a8a8a" stroke-width="1"/>
<text x="466.9" y="244.9" font-size="8.8" text-anchor="start" font-weight="bold" fill="#111" stroke="#111" stroke-width="0.48" textLength="32.2" lengthAdjust="spacingAndGlyphs" >CFU-GM</text>
<rect x="459.5" y="257.6" width="3.6" height="3.6" fill="#505050" stroke="#222222" stroke-width="1"/>
<text x="466.9" y="262.5" font-size="8.8" text-anchor="start" font-weight="bold" fill="#111" stroke="#111" stroke-width="0.48" textLength="26.2" lengthAdjust="spacingAndGlyphs" >CFU-M</text>
<polyline points="337.4,218.5 337.4,213.4 371.6,213.4 371.6,218.5" fill="none" stroke="#111" stroke-width="1.3"/>
<text x="355" y="213.3" font-size="9" text-anchor="middle" font-weight="bold" fill="#111" stroke="#111" stroke-width="0.49" >**</text>
<polyline points="374.3,203.5 374.3,198.2 443.2,198.2 443.2,203.5" fill="none" stroke="#111" stroke-width="1.3"/>
<text x="410" y="199.2" font-size="9" text-anchor="middle" font-weight="bold" fill="#111" stroke="#111" stroke-width="0.49" >*</text>
<polyline points="373.9,218.5 373.9,213.4 407.4,213.4 407.4,218.5" fill="none" stroke="#111" stroke-width="1.3"/>
<text x="390.7" y="213.3" font-size="9" text-anchor="middle" font-weight="bold" fill="#111" stroke="#111" stroke-width="0.49" >*</text>
<polyline points="409.7,237.4 409.7,232.8 443.6,232.8 443.6,237.4" fill="none" stroke="#111" stroke-width="1.3"/>
<text x="427.4" y="230" font-size="9.5" text-anchor="middle" font-weight="normal" fill="#111" stroke="#111" stroke-width="0.55" textLength="13" lengthAdjust="spacingAndGlyphs" >NS</text>
<text x="277.3" y="201" font-size="16.5" text-anchor="start" font-weight="bold" fill="#111" stroke="#111" stroke-width="0.91" textLength="12" lengthAdjust="spacingAndGlyphs" >D</text>
</svg>
</body></html>
